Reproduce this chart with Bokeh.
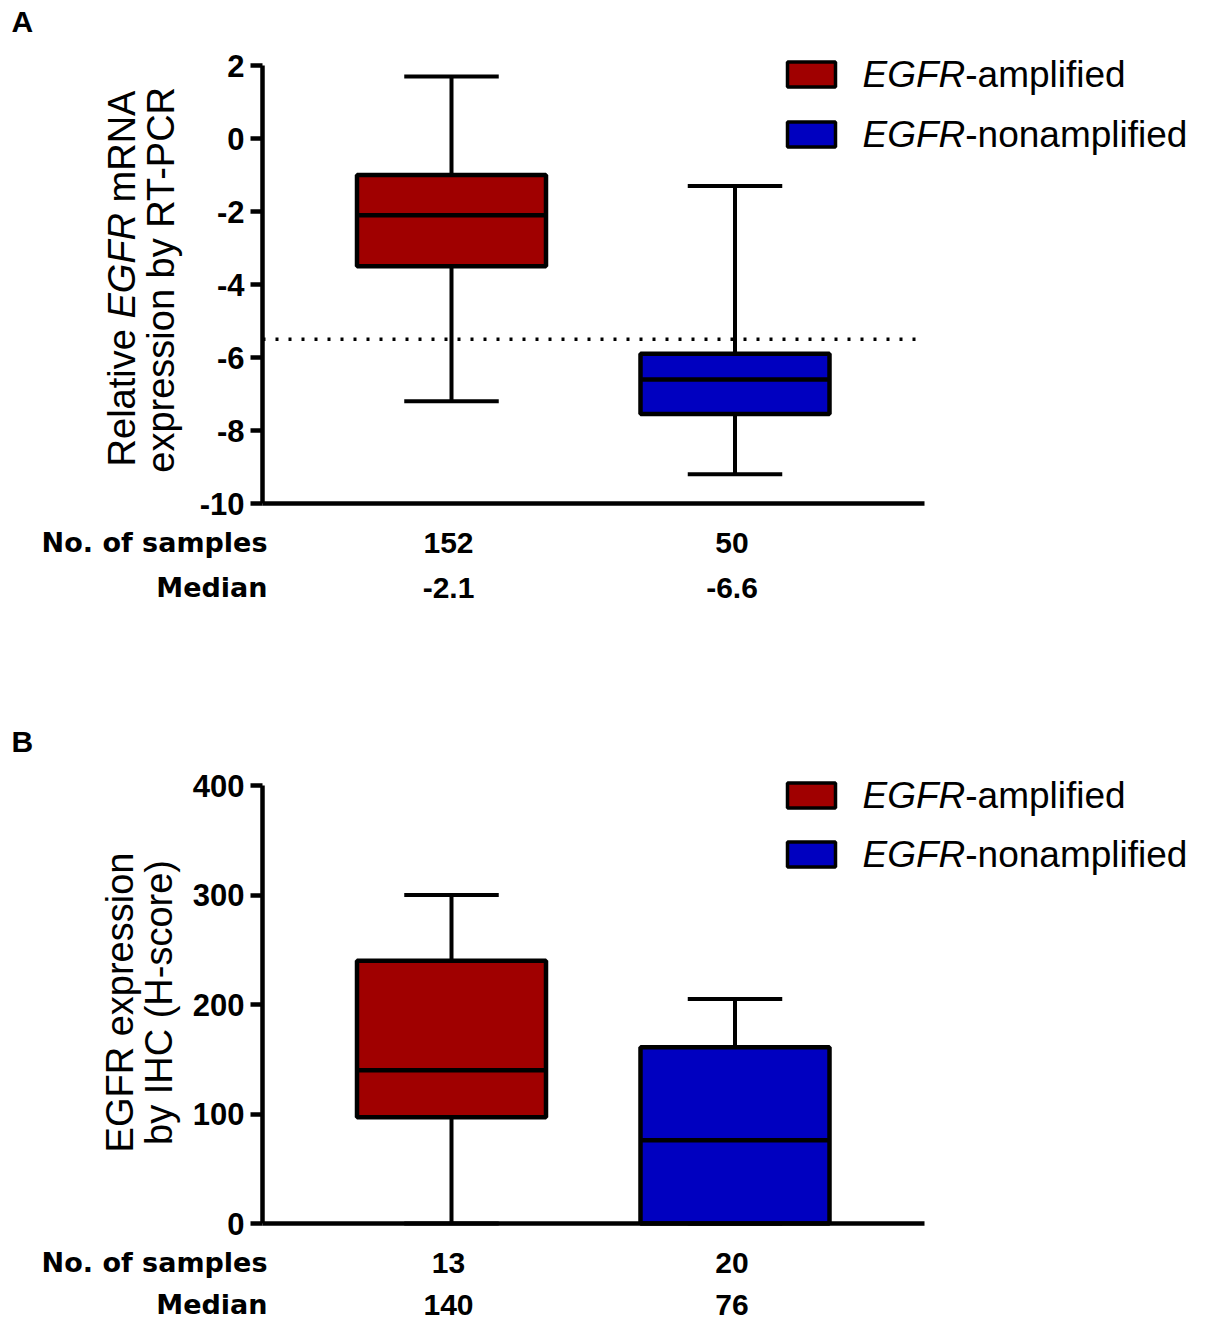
import math
from bokeh.plotting import figure
from bokeh.models import Range1d, FixedTicker, Label
from bokeh.layouts import column
from bokeh.embed import file_html
from bokeh.resources import INLINE

# ---------------- data ----------------
groups = ["EGFR-amplified", "EGFR-nonamplified"]
group_x = [1, 2]
box_colors = ["#a00000", "#0000c0"]

# Panel A: relative EGFR mRNA expression by RT-PCR
a_whisk_lo = [-7.2, -9.2]
a_q1 = [-3.5, -7.55]
a_median = [-2.1, -6.6]
a_q3 = [-1.0, -5.9]
a_whisk_hi = [1.7, -1.3]
a_cutoff = -5.5
a_n = [152, 50]
a_median_text = ["-2.1", "-6.6"]
a_yticks = [-10, -8, -6, -4, -2, 0, 2]
a_ytick_labels = ["-10", "-8", "-6", "-4", "-2", "0", "2"]

# Panel B: EGFR expression by IHC (H-score)
b_whisk_lo = [0, 0]
b_q1 = [97, 0]
b_median = [140, 76]
b_q3 = [240, 161]
b_whisk_hi = [300, 205]
b_n = [13, 20]
b_median_text = ["140", "76"]
b_yticks = [0, 100, 200, 300, 400]
b_ytick_labels = ["0", "100", "200", "300", "400"]

row_titles = ["No. of samples", "Median"]

# ---------------- layout helpers ----------------
W = {' ': 278, 'R': 722, 'e': 556, 'l': 222, 'a': 556, 't': 278, 'i': 222, 'v': 500,
     'E': 667, 'G': 778, 'F': 611, 'm': 833, 'N': 722, 'A': 667, 'x': 500, 'p': 556,
     'r': 333, 's': 500, 'o': 556, 'n': 556, 'b': 556, 'y': 500, 'T': 611, '-': 333,
     'P': 667, 'C': 722, 'd': 556, 'f': 278, 'H': 722, 'I': 278, 'c': 500, '(': 333,
     ')': 333}


def tw(s, size):
    return sum(W.get(ch, 556) for ch in s) * size / 1000.0


FIG_W = 1206
PX_X = 283.5
X0 = 1.0 / 3.0
X_AXIS_END = 8.0 / 3.0
AXIS_LEFT_PX = 262
BOX_W = 2.0 / 3.0
CAP_W = 1.0 / 3.0
AXIS_PX = 438
LEG_FS = 37


def dx(px):
    return X0 + (px - AXIS_LEFT_PX) / PX_X


def make_panel(letter, ylabel_lines, label_base_x, label_center_y, yticks, ytick_labels,
               lo, q1, med, q3, hi, n, medtxt, cutoff,
               canvas_top, fig_h, top_px, legend_y, row_offsets, letter_y):
    ymin, ymax = yticks[0], yticks[-1]
    ppu = AXIS_PX / (ymax - ymin)

    def dy(py):
        return ymax - (py - top_px) / ppu

    p = figure(width=FIG_W, height=fig_h, output_backend="svg", toolbar_location=None,
               x_range=Range1d(dx(0), dx(FIG_W)),
               y_range=Range1d(dy(canvas_top + fig_h), dy(canvas_top)),
               min_border=0, min_border_left=0, min_border_right=0,
               min_border_top=0, min_border_bottom=0)
    p.outline_line_color = None
    p.grid.visible = False
    p.background_fill_color = "white"
    p.border_fill_color = "white"

    # axes (drawn at fixed data locations inside the full-canvas frame)
    p.yaxis.fixed_location = X0
    p.yaxis.ticker = FixedTicker(ticks=yticks)
    p.yaxis.major_label_overrides = {t: s for t, s in zip(yticks, ytick_labels)}
    p.yaxis.bounds = (ymin, ymax)
    p.yaxis.axis_line_width = 4.5
    p.yaxis.major_tick_line_width = 4.5
    p.yaxis.major_tick_out = 12
    p.yaxis.major_tick_in = 0
    p.yaxis.minor_tick_line_color = None
    p.yaxis.major_label_standoff = 6
    p.yaxis.major_label_text_font = "Liberation Sans"
    p.yaxis.major_label_text_font_style = "bold"
    p.yaxis.major_label_text_font_size = "31px"
    p.yaxis.major_label_text_color = "black"

    p.xaxis.fixed_location = ymin
    p.xaxis.ticker = FixedTicker(ticks=[])
    p.xaxis.bounds = (X0, X_AXIS_END)
    p.xaxis.axis_line_width = 4.5
    p.xaxis.major_tick_line_color = None
    p.xaxis.minor_tick_line_color = None
    p.xaxis.major_label_text_font_size = "0px"

    # cutoff line
    if cutoff is not None:
        p.segment(x0=[X0], x1=[X_AXIS_END], y0=[cutoff], y1=[cutoff],
                  line_color="black", line_width=3.5, line_dash="3 10")

    left = [c - BOX_W / 2 for c in group_x]
    right = [c + BOX_W / 2 for c in group_x]
    # whiskers and caps
    p.segment(x0=group_x, x1=group_x, y0=q3, y1=hi, line_color="black", line_width=4)
    p.segment(x0=group_x, x1=group_x, y0=q1, y1=lo, line_color="black", line_width=4)
    p.segment(x0=[c - CAP_W / 2 for c in group_x], x1=[c + CAP_W / 2 for c in group_x],
              y0=hi, y1=hi, line_color="black", line_width=4)
    p.segment(x0=[c - CAP_W / 2 for c in group_x], x1=[c + CAP_W / 2 for c in group_x],
              y0=lo, y1=lo, line_color="black", line_width=4)
    # boxes and medians
    p.quad(left=left, right=right, bottom=q1, top=q3, fill_color=box_colors,
           line_color="black", line_width=4.5)
    p.segment(x0=left, x1=right, y0=med, y1=med, line_color="black", line_width=4.5)

    # legend
    for g, col, ly in zip(groups, box_colors, legend_y):
        p.rect(x=[dx(811)], y=[dy(ly)], width=48, height=25, width_units="screen",
               height_units="screen", fill_color=col, line_color="black", line_width=3.5)
        gene, rest = g.split("-", 1)
        p.add_layout(Label(x=dx(862), y=dy(ly), text=gene, text_font="Liberation Sans",
                           text_font_style="italic", text_font_size=f"{LEG_FS}px",
                           text_baseline="middle", text_align="left", text_color="black"))
        p.add_layout(Label(x=dx(862 + tw(gene, LEG_FS)), y=dy(ly), text="-" + rest,
                           text_font="Liberation Sans", text_font_size=f"{LEG_FS}px",
                           text_baseline="middle", text_align="left", text_color="black"))

    # rotated y-axis title (pieces so that the gene name can be italic)
    fs = 38
    for pieces, bx in zip(ylabel_lines, label_base_x):
        full = "".join(s for s, _ in pieces)
        start = label_center_y + tw(full, fs) / 2.0
        cum = 0.0
        for s, style in pieces:
            lead = len(s) - len(s.lstrip())
            pos = start - cum - tw(s[:lead], fs)
            cum += tw(s, fs)
            p.add_layout(Label(x=dx(bx), y=dy(pos), text=s.strip(), angle=math.pi / 2,
                               text_font="Liberation Sans", text_font_style=style,
                               text_font_size=f"{fs}px", text_align="left",
                               text_baseline="alphabetic", text_color="black"))

    # table under the axis
    bottom_px = top_px + AXIS_PX
    for title, off in zip(row_titles, row_offsets):
        p.add_layout(Label(x=dx(267), y=dy(bottom_px + off), text=title,
                           text_font="DejaVu Sans", text_font_style="bold",
                           text_font_size="27px", text_align="right",
                           text_baseline="middle", text_color="black"))
    for c, nv, mv in zip(group_x, n, medtxt):
        for txt, off in zip([str(nv), mv], row_offsets):
            p.add_layout(Label(x=c, x_offset=-3, y=dy(bottom_px + off), text=txt,
                               text_font="Liberation Sans", text_font_style="bold",
                               text_font_size="30px", text_align="center",
                               text_baseline="middle", text_color="black"))

    # panel letter
    p.add_layout(Label(x=dx(11), y=dy(letter_y), text=letter, text_font="Liberation Sans",
                       text_font_style="bold", text_font_size="30px", text_align="left",
                       text_baseline="middle", text_color="black"))
    return p


pA = make_panel(
    "A",
    [[("Relative ", "normal"), ("EGFR", "italic"), (" mRNA", "normal")],
     [("expression by RT-PCR", "normal")]],
    [121, 160], 278, a_yticks, a_ytick_labels,
    a_whisk_lo, a_q1, a_median, a_q3, a_whisk_hi, a_n, a_median_text, a_cutoff,
    canvas_top=0, fig_h=660, top_px=65, legend_y=[74, 134], row_offsets=[39, 84],
    letter_y=21)

pB = make_panel(
    "B",
    [[("EGFR expression", "normal")], [("by IHC (H-score)", "normal")]],
    [119, 158], 1002, b_yticks, b_ytick_labels,
    b_whisk_lo, b_q1, b_median, b_q3, b_whisk_hi, b_n, b_median_text, None,
    canvas_top=660, fig_h=660, top_px=785, legend_y=[795, 854], row_offsets=[39, 81],
    letter_y=741)

layout = column(pA, pB)
open("out.html", "w").write(file_html(layout, INLINE))
